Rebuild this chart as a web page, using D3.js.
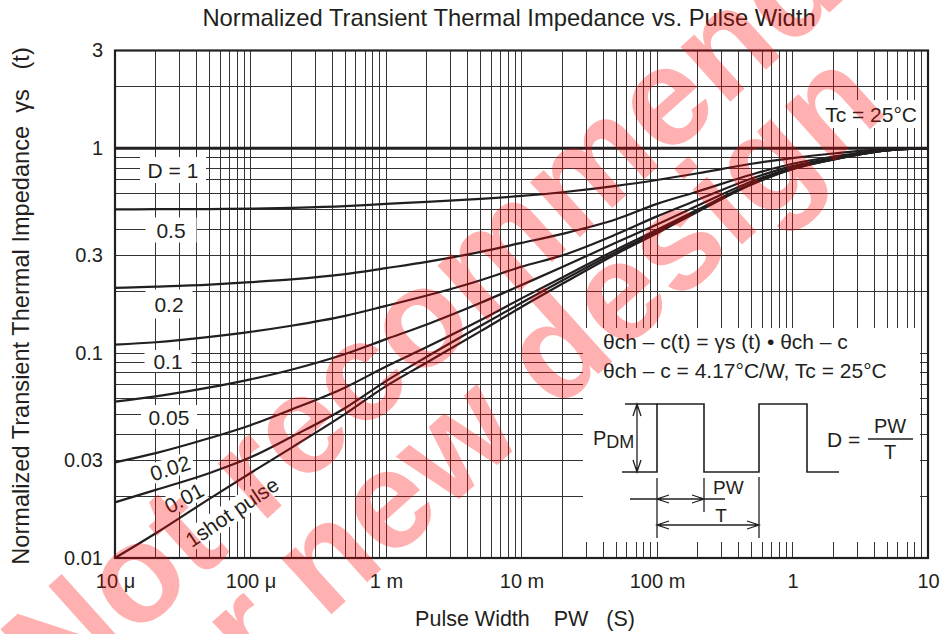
<!DOCTYPE html>
<html>
<head>
<meta charset="utf-8">
<script src="https://cdn.jsdelivr.net/npm/d3@7"></script>
<style>
body { margin: 0; background: #fff; }
text { font-family: "Liberation Sans", Arial, Helvetica, sans-serif; fill: #231f20; }
</style>
</head>
<body>
<script>
var width = 940,
    height = 634;

var pulseWidth = [1e-5, 2e-5, 5e-5, 1e-4, 2e-4, 5e-4, 1e-3, 2e-3, 5e-3, 1e-2, 2e-2, 5e-2, 0.1, 0.2, 0.5, 1, 2, 5, 10];

// normalized transient thermal impedance, one array per duty cycle
var rD1    = [1, 1, 1, 1, 1, 1, 1, 1, 1, 1, 1, 1, 1, 1, 1, 1, 1, 1, 1];
var rD05   = [0.503, 0.504, 0.505, 0.507, 0.512, 0.522, 0.535, 0.547, 0.566, 0.585, 0.61, 0.655, 0.70, 0.755, 0.84, 0.895, 0.943, 0.99, 1.0];
var rD02   = [0.208, 0.211, 0.216, 0.222, 0.229, 0.243, 0.260, 0.279, 0.312, 0.345, 0.382, 0.45, 0.535, 0.615, 0.745, 0.84, 0.91, 0.982, 1.0];
var rD01   = [0.110, 0.113, 0.120, 0.127, 0.136, 0.152, 0.170, 0.191, 0.227, 0.264, 0.30, 0.38, 0.465, 0.56, 0.712, 0.818, 0.895, 0.978, 1.0];
var rD005  = [0.058, 0.0615, 0.068, 0.0745, 0.083, 0.099, 0.117, 0.138, 0.176, 0.215, 0.263, 0.347, 0.425, 0.525, 0.688, 0.803, 0.888, 0.977, 1.0];
var rD002  = [0.0293, 0.0325, 0.0385, 0.0445, 0.053, 0.068, 0.086, 0.107, 0.145, 0.185, 0.234, 0.32, 0.40, 0.502, 0.672, 0.795, 0.883, 0.976, 1.0];
var rD001  = [0.0187, 0.0215, 0.026, 0.031, 0.039, 0.054, 0.073, 0.096, 0.136, 0.176, 0.226, 0.312, 0.392, 0.496, 0.668, 0.792, 0.881, 0.975, 1.0];
var rSingle = [0.0100, 0.0132, 0.0195, 0.0260, 0.0345, 0.0505, 0.0690, 0.0900, 0.128, 0.168, 0.218, 0.305, 0.385, 0.490, 0.665, 0.790, 0.880, 0.975, 1.0];

var curveLabels = ["D = 1", "0.5", "0.2", "0.1", "0.05", "0.02", "0.01", "1shot pulse"];

var xTicks = [1e-5, 1e-4, 1e-3, 1e-2, 0.1, 1, 10];
var xTickLabels = ["10 \u03bc", "100 \u03bc", "1 m", "10 m", "100 m", "1", "10"];
var yTicks = [0.01, 0.03, 0.1, 0.3, 1, 3];
var yTickLabels = ["0.01", "0.03", "0.1", "0.3", "1", "3"];

var series = [rD1, rD05, rD02, rD01, rD005, rD002, rD001, rSingle].map(function(vals, i) {
  return { label: curveLabels[i], points: vals.map(function(v, j) { return [pulseWidth[j], v]; }) };
});

// plot box (window.top is read-only, so own names)
var pL = 115, pR = 928, pT = 50.5, pB = 558;

var x = d3.scaleLog().domain([1e-5, 10]).range([pL, pR]);
var y = d3.scaleLog().domain([0.01, 3]).range([pB, pT]);

var svg = d3.select("body").append("svg")
    .attr("width", width)
    .attr("height", height);

// grid values: 1..9 in every decade
var xGrid = [], yGrid = [];
for (var e = -5; e <= 0; e++)
  for (var k = 1; k <= 9; k++) xGrid.push(k * Math.pow(10, e));
xGrid.push(10);
for (var e2 = -2; e2 <= -1; e2++)
  for (var k2 = 1; k2 <= 9; k2++) yGrid.push(k2 * Math.pow(10, e2));
yGrid.push(1, 2, 3);

var grid = svg.append("g")
    .attr("stroke", "#333")
    .attr("stroke-width", 1)
    .attr("shape-rendering", "crispEdges");

grid.selectAll(".vx")
    .data(xGrid)
  .enter().append("line")
    .attr("x1", function(d) { return x(d); })
    .attr("x2", function(d) { return x(d); })
    .attr("y1", pT)
    .attr("y2", pB);

grid.selectAll(".hy")
    .data(yGrid)
  .enter().append("line")
    .attr("x1", pL)
    .attr("x2", pR)
    .attr("y1", function(d) { return y(d); })
    .attr("y2", function(d) { return y(d); });

// white boxes that break the grid behind labels and the inset
var white = svg.append("g").attr("fill", "#fff");
white.append("rect").attr("x", 583).attr("y", 328).attr("width", 337).attr("height", 214);
white.append("rect").attr("x", 818).attr("y", 100).attr("width", 103).attr("height", 28);

var labelLayout = [
  { cx: 173, cy: 170, a: 0,   w: 66,  h: 26 },
  { cx: 171, cy: 230, a: 0,   w: 51,  h: 25 },
  { cx: 169, cy: 304, a: 0,   w: 47,  h: 29 },
  { cx: 168, cy: 361, a: 0,   w: 47,  h: 22 },
  { cx: 169, cy: 417, a: 0,   w: 56,  h: 24 },
  { cx: 170, cy: 468, a: -18, w: 48,  h: 20 },
  { cx: 184, cy: 498, a: -28, w: 46,  h: 20 },
  { cx: 232, cy: 512, a: -34, w: 112, h: 22 }
];

var labelG = svg.selectAll(".clabel")
    .data(series)
  .enter().append("g")
    .attr("class", "clabel")
    .attr("transform", function(d, i) {
      var L = labelLayout[i];
      return "translate(" + L.cx + "," + L.cy + ") rotate(" + L.a + ")";
    });

labelG.append("rect")
    .attr("x", function(d, i) { return -labelLayout[i].w / 2; })
    .attr("y", function(d, i) { return -labelLayout[i].h / 2; })
    .attr("width", function(d, i) { return labelLayout[i].w; })
    .attr("height", function(d, i) { return labelLayout[i].h; })
    .attr("fill", "#fff");

// curves
var line = d3.line()
    .x(function(d) { return x(d[0]); })
    .y(function(d) { return y(d[1]); })
    .curve(d3.curveMonotoneX);

svg.append("g").selectAll("path")
    .data(series)
  .enter().append("path")
    .attr("d", function(d) { return line(d.points); })
    .attr("fill", "none")
    .attr("stroke", "#231f20")
    .attr("stroke-width", function(d, i) { return i === 0 ? 2.8 : 2.2; });

labelG.append("text")
    .attr("text-anchor", "middle")
    .attr("dy", "0.36em")
    .style("font-size", "21px")
    .text(function(d) { return d.label; });

// frame
svg.append("rect")
    .attr("x", pL).attr("y", pT)
    .attr("width", pR - pL).attr("height", pB - pT)
    .attr("fill", "none")
    .attr("stroke", "#231f20")
    .attr("stroke-width", 2.2);

// axes (labels only, the frame is drawn above)
var xAxis = svg.append("g")
    .attr("transform", "translate(0," + pB + ")")
    .call(d3.axisBottom(x).tickValues(xTicks).tickSize(0).tickPadding(16)
      .tickFormat(function(d, i) { return xTickLabels[i]; }));
var yAxis = svg.append("g")
    .attr("transform", "translate(" + pL + ",0)")
    .call(d3.axisLeft(y).tickValues(yTicks).tickSize(0).tickPadding(12)
      .tickFormat(function(d, i) { return yTickLabels[i]; }));
[xAxis, yAxis].forEach(function(a) {
  a.select(".domain").remove();
  a.selectAll("text").attr("fill", "#231f20").style("font-size", "20px")
      .style("font-family", "\"Liberation Sans\", Arial, sans-serif");
});

svg.append("text")
    .attr("x", 509).attr("y", 26)
    .attr("text-anchor", "middle")
    .style("font-size", "23.8px")
    .text("Normalized Transient Thermal Impedance vs. Pulse Width");

svg.append("text")
    .attr("x", 525).attr("y", 626)
    .attr("text-anchor", "middle")
    .style("font-size", "21.5px")
    .style("white-space", "pre")
    .text("Pulse Width    PW   (S)");

svg.append("text")
    .attr("transform", "translate(29,306) rotate(-90)")
    .attr("text-anchor", "middle")
    .style("font-size", "23.6px")
    .style("white-space", "pre")
    .text("Normalized Transient Thermal Impedance  \u03b3s   (t)");

svg.append("text")
    .attr("x", 917).attr("y", 122)
    .attr("text-anchor", "end")
    .style("font-size", "21px")
    .text("Tc = 25\u00b0C");

// inset: formula and pulse sketch
var inset = svg.append("g").attr("transform", "translate(583,328)");
inset.append("text").attr("x", 20).attr("y", 21).style("font-size", "21px")
    .text("\u03b8ch \u2013 c(t) = \u03b3s (t) \u2022 \u03b8ch \u2013 c");
inset.append("text").attr("x", 20).attr("y", 50).style("font-size", "21px")
    .text("\u03b8ch \u2013 c = 4.17\u00b0C/W, Tc = 25\u00b0C");

var ink = inset.append("g").attr("fill", "none").attr("stroke", "#231f20").attr("stroke-width", 1.3);
ink.append("path").attr("stroke-width", 1.6).attr("d", "M39,144H74V76H121V144H176V76H224V144H256");
ink.append("path").attr("d", "M42,76H74M54,76V144M50,88L54,76L58,88M50,132L54,144L58,132");
ink.append("path").attr("d", "M74,150V210M121,150V184M176,149V210");
ink.append("path").attr("d", "M47,171H142M86,167L74,171L86,175M109,167L121,171L109,175");
ink.append("path").attr("d", "M74,197H176M86,193L74,197L86,201M164,193L176,197L164,201");
ink.append("path").attr("d", "M285,111H330");

inset.append("text").attr("x", 10).attr("y", 117).style("font-size", "20px")
    .text("P").append("tspan").attr("dy", 3).style("font-size", "18px").text("DM");
inset.append("text").attr("x", 130).attr("y", 166).style("font-size", "19px").text("PW");
inset.append("text").attr("x", 138).attr("y", 194).attr("text-anchor", "middle").style("font-size", "19px").text("T");
inset.append("text").attr("x", 244).attr("y", 119).style("font-size", "21px").text("D =");
inset.append("text").attr("x", 307).attr("y", 105).attr("text-anchor", "middle").style("font-size", "20px").text("PW");
inset.append("text").attr("x", 307).attr("y", 131).attr("text-anchor", "middle").style("font-size", "20px").text("T");

// watermark
var wm = svg.append("g")
    .attr("transform", "translate(58,707) rotate(-42)")
    .attr("opacity", 0.3);
wm.append("text").attr("x", 0).attr("y", 0)
    .style("font-size", "140px").style("font-weight", "bold").style("fill", "#ff0000")
    .text("Not recommended");
wm.append("text").attr("x", 30).attr("y", 114)
    .style("font-size", "140px").style("font-weight", "bold").style("fill", "#ff0000")
    .text("for new design");
</script>
</body>
</html>
